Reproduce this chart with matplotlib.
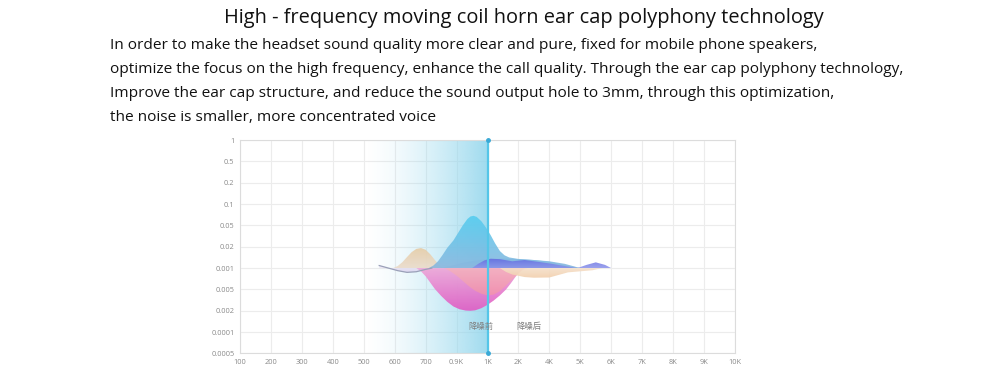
import numpy as np
import matplotlib
matplotlib.use("Agg")
import matplotlib.pyplot as plt
import matplotlib.colors as mcolors

plt.rcParams["font.family"] = ["Open Sans", "Noto Sans CJK SC", "DejaVu Sans"]

TITLE = "High - frequency moving coil horn ear cap polyphony technology"
BODY = [
    "In order to make the headset sound quality more clear and pure, fixed for mobile phone speakers,",
    "optimize the focus on the high frequency, enhance the call quality. Through the ear cap polyphony technology,",
    "Improve the ear cap structure, and reduce the sound output hole to 3mm, through this optimization,",
    "the noise is smaller, more concentrated voice",
]

X_LABELS = ["100", "200", "300", "400", "500", "600", "700", "0.9K", "1K",
            "2K", "4K", "5K", "6K", "7K", "8K", "9K", "10K"]
Y_LABELS = ["0.0005", "0.0001", "0.002", "0.005", "0.001", "0.02",
            "0.05", "0.1", "0.2", "0.5", "1"]
BASE = 4  # the 0.001 row

# curves: x in tick-index units, y as offset from the 0.001 row
CYAN_X = [6.1, 6.25, 6.4, 6.55, 6.7, 6.9, 7.05, 7.2, 7.35, 7.45, 7.55, 7.65, 7.8, 7.95,
          8.1, 8.25, 8.4, 8.55, 8.7, 9.0, 9.5, 10.0, 10.5, 11.0]
CYAN_Y = [0.0, 0.12, 0.32, 0.62, 0.95, 1.3, 1.65, 2.0, 2.3, 2.42, 2.45, 2.4, 2.2, 1.9,
          1.55, 1.15, 0.8, 0.6, 0.5, 0.43, 0.38, 0.32, 0.2, 0.0]

LBLUE_X = [6.4, 6.8, 7.2, 7.6, 8.0, 8.5, 9.0, 9.5, 10.0, 10.5, 11.0]
LBLUE_Y = [0.0, 0.1, 0.25, 0.35, 0.42, 0.45, 0.42, 0.38, 0.3, 0.15, 0.0]

PURPLE_X = [7.5, 7.7, 7.9, 8.1, 8.4, 8.8, 9.2, 9.6, 10.0, 10.4, 10.9, 11.2, 11.5, 11.8, 12.0]
PURPLE_Y = [0.0, 0.2, 0.36, 0.44, 0.42, 0.32, 0.38, 0.3, 0.22, 0.12, 0.0, 0.15, 0.27, 0.15, 0.0]

TAN_X = [4.95, 5.1, 5.25, 5.4, 5.55, 5.7, 5.85, 6.0, 6.15, 6.3, 6.45, 6.57]
TAN_Y = [0.0, 0.1, 0.28, 0.52, 0.75, 0.9, 0.94, 0.86, 0.65, 0.38, 0.12, 0.0]

PINK_X = [5.7, 5.85, 6.0, 6.15, 6.3, 6.5, 6.7, 6.9, 7.1, 7.3, 7.45, 7.6, 7.8, 8.0,
          8.2, 8.4, 8.6, 8.75, 8.9, 9.05, 9.2]
PINK_Y = [0.0, -0.15, -0.38, -0.68, -0.98, -1.3, -1.58, -1.8, -1.93, -1.99, -2.0, -1.98,
          -1.88, -1.72, -1.52, -1.28, -1.0, -0.72, -0.42, -0.15, 0.0]

SALMON_X = [6.6, 6.8, 7.0, 7.2, 7.4, 7.6, 7.8, 8.0, 8.2, 8.4, 8.6, 8.8, 9.0, 9.15, 9.3]
SALMON_Y = [0.0, -0.15, -0.35, -0.6, -0.85, -1.06, -1.2, -1.28, -1.24, -1.08, -0.82, -0.52,
            -0.25, -0.08, 0.0]

PEACH_X = [8.4, 8.6, 8.8, 9.2, 9.5, 10.0, 10.3, 10.6, 11.0, 11.4, 11.7]
PEACH_Y = [0.0, -0.18, -0.3, -0.42, -0.45, -0.44, -0.32, -0.2, -0.15, -0.1, 0.0]

GRAY_X = [4.5, 4.8, 5.1, 5.4, 5.7, 6.0, 6.2]
GRAY_Y = [0.12, 0.0, -0.12, -0.2, -0.17, -0.06, 0.0]


def grad_fill(ax, x, y, c_far, c_near, alpha, z):
    """fill between baseline and curve, colour fades from c_near (baseline) to c_far (peak)"""
    x = np.asarray(x, float)
    y = BASE + np.asarray(y, float)
    poly = ax.fill_between(x, BASE, y, color="none", lw=0, zorder=z)
    lo, hi = min(y.min(), BASE), max(y.max(), BASE)
    c1, c2 = np.array(mcolors.to_rgb(c_near)), np.array(mcolors.to_rgb(c_far))
    t = np.linspace(0, 1, 64)[:, None]
    if y.mean() < BASE:   # trough: far end at bottom
        t = t[::-1]
    rgb = c1 + (c2 - c1) * t
    img = np.dstack([rgb[:, 0], rgb[:, 1], rgb[:, 2], np.full(64, alpha)]).reshape(64, 1, 4)
    im = ax.imshow(img, extent=[x.min(), x.max(), lo, hi], origin="lower",
                   aspect="auto", zorder=z, interpolation="bilinear")
    im.set_clip_path(poly.get_paths()[0], transform=ax.transData)


fig = plt.figure(figsize=(10, 3.88), dpi=100)
fig.patch.set_facecolor("white")

fig.text(0.524, 0.953, TITLE, ha="center", va="center", fontsize=14.4, color="#111")
for i, line in enumerate(BODY):
    fig.text(0.110, 0.884 - i * 0.0619, line, ha="left", va="center",
             fontsize=11.05, color="#111")

ax = fig.add_axes([0.240, 0.089, 0.495, 0.550])
nx, ny = len(X_LABELS), len(Y_LABELS)
ax.set_xlim(0, nx - 1)
ax.set_ylim(0, ny - 1)
ax.set_xticks(range(nx))
ax.set_xticklabels(X_LABELS)
ax.set_yticks(range(ny))
ax.set_yticklabels(Y_LABELS)
ax.tick_params(length=0, labelsize=5.3, labelcolor="#8a8a8a", pad=4)
ax.grid(True, color="#ececec", lw=0.8)
ax.set_axisbelow(True)
for sp in ax.spines.values():
    sp.set_color("#dcdcdc")

# shaded band up to 1K
band = np.linspace(0, 1, 128) ** 1.5
cyan = np.array(mcolors.to_rgb("#8fd5ec"))
bimg = np.ones((1, 128, 4))
bimg[0, :, :3] = cyan
bimg[0, :, 3] = band * 0.85
ax.imshow(bimg, extent=[4.0, 8.0, 0, ny - 1], aspect="auto", zorder=1,
          interpolation="bilinear")
ax.axvline(8, color="#55c6e8", lw=1.6, zorder=6)
ax.plot([8, 8], [0, ny - 1], "o", color="#3aa9d6", ms=2.5, zorder=7, clip_on=False)

grad_fill(ax, GRAY_X, GRAY_Y, "#d9cfee", "#f4eef8", 0.8, 2)
grad_fill(ax, TAN_X, TAN_Y, "#e6cca6", "#ebdccb", 0.92, 3)
grad_fill(ax, LBLUE_X, LBLUE_Y, "#78b0e4", "#b0d0ee", 0.75, 3)
grad_fill(ax, CYAN_X, CYAN_Y, "#52cdf0", "#88b6de", 0.88, 4)
grad_fill(ax, PURPLE_X, PURPLE_Y, "#6066e0", "#8a92ea", 0.85, 5)
grad_fill(ax, PINK_X, PINK_Y, "#e05cc4", "#eea6d8", 0.92, 3)
grad_fill(ax, SALMON_X, SALMON_Y, "#f598a4", "#f6b4b8", 0.7, 4)
grad_fill(ax, PEACH_X, PEACH_Y, "#f2cfac", "#f5e0ca", 0.9, 4)
ax.plot(GRAY_X, [BASE + v for v in GRAY_Y], color="#9aa0b8", lw=0.9, zorder=5)

ax.text(7.8, 1.27, "降噪前", fontsize=6, color="#808080", ha="center", va="center",
        zorder=8, family=["Noto Sans CJK SC"])
ax.text(9.35, 1.27, "降噪后", fontsize=6, color="#808080", ha="center", va="center",
        zorder=8, family=["Noto Sans CJK SC"])

fig.savefig("out.png", dpi=100, facecolor="white")
